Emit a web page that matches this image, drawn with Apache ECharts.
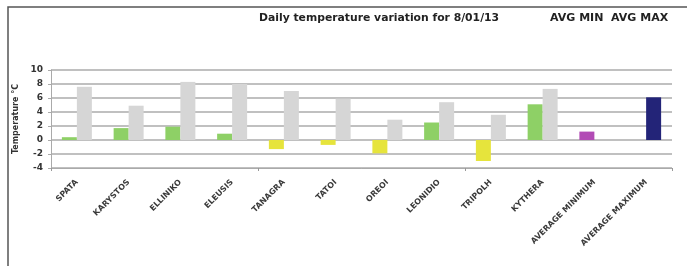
<!DOCTYPE html>
<html>
<head>
<meta charset="utf-8">
<script src="https://cdn.jsdelivr.net/npm/echarts@6/dist/echarts.min.js"></script>
<style>
  html, body { margin: 0; padding: 0; background: #fff; }
  #main { width: 687px; height: 266px; }
</style>
</head>
<body>
<div id="main"></div>
<script>
  // stations and daily min / max (°C)
  var stations = ['SPATA', 'KARYSTOS', 'ELLINIKO', 'ELEUSIS', 'TANAGRA', 'TATOI', 'OREOI',
                  'LEONIDIO', 'TRIPOLH', 'KYTHERA', 'AVERAGE MINIMUM', 'AVERAGE MAXIMUM'];
  var minTemps = [0.4, 1.7, 1.9, 0.9, -1.3, -0.7, -1.9, 2.5, -3.0, 5.1, 1.2, null];
  var maxTemps = [7.6, 4.9, 8.3, 8.0, 7.0, 5.9, 2.9, 5.4, 3.6, 7.3, null, 6.1];

  var chart = echarts.init(document.getElementById('main'));

  var minData = minTemps.map(function (v, i) {
    var c = v < 0 ? '#e6e43c' : '#8ed066';
    if (stations[i] === 'AVERAGE MINIMUM') c = '#b24bb5';
    return { value: v, itemStyle: { color: c } };
  });
  var maxData = maxTemps.map(function (v, i) {
    var c = stations[i] === 'AVERAGE MAXIMUM' ? '#232478' : '#d6d6d6';
    return { value: v, itemStyle: { color: c } };
  });

  chart.setOption({
    animation: false,
    textStyle: { fontFamily: 'DejaVu Sans' },
    graphic: [
      {
        type: 'text', left: 259, top: 13,
        style: { text: 'Daily temperature variation for 8/01/13', font: 'bold 10.8px "DejaVu Sans"', fill: '#222' }
      },
      {
        type: 'text', left: 550, top: 13,
        style: { text: 'AVG MIN  AVG MAX', font: 'bold 11px "DejaVu Sans"', fill: '#222' }
      },
      {
        type: 'polyline',
        shape: { points: [[8, 266], [8, 7], [687, 7]] },
        style: { stroke: '#555', lineWidth: 1.5, fill: null }
      }
    ],
    grid: { left: 51, right: 15, top: 70, bottom: 98 },
    xAxis: [
      {
        type: 'category',
        data: stations,
        axisLine: { show: false },
        axisTick: { show: false },
        axisLabel: {
          rotate: 45, interval: 0, fontSize: 8, fontWeight: 'bold', color: '#3a3a3a', margin: 13
        }
      },
      {
        type: 'category',
        data: stations,
        position: 'bottom',
        axisLine: { show: true, onZero: true, lineStyle: { color: '#aaa', width: 1 } },
        axisTick: { show: true, length: 3, lineStyle: { color: '#999' } },
        axisLabel: { show: false }
      }
    ],
    yAxis: {
      type: 'value',
      min: -4, max: 10, interval: 2,
      name: 'Temperature °C',
      nameLocation: 'middle',
      nameGap: 26,
      nameTextStyle: { fontSize: 8, fontWeight: 'bold', color: '#333' },
      axisLine: { show: true, lineStyle: { color: '#aaa' } },
      axisTick: { show: true, length: 3, lineStyle: { color: '#aaa' } },
      axisLabel: { fontSize: 9, color: '#333', fontWeight: 'bold', margin: 8 },
      splitLine: { lineStyle: { color: '#ababab', width: 1.5 } }
    },
    series: [
      {
        name: 'min', type: 'bar', data: minData,
        barWidth: 15, barGap: '0%'
      },
      {
        name: 'max', type: 'bar', data: maxData,
        barWidth: 15, barGap: '0%'
      }
    ]
  });
</script>
</body>
</html>
